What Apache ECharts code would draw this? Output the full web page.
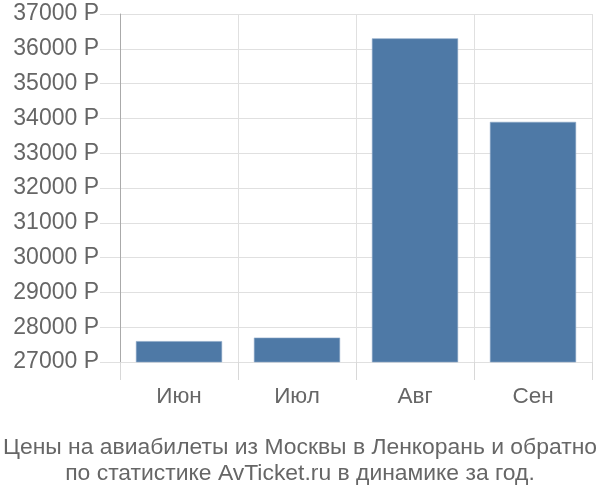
<!DOCTYPE html>
<html>
<head>
<meta charset="utf-8">
<script src="https://cdn.jsdelivr.net/npm/echarts@6/dist/echarts.min.js"></script>
<style>html,body{margin:0;padding:0;background:#fff}#c{width:600px;height:500px}</style>
</head>
<body>
<div id="c"></div>
<script>
const categories = ['Июн', 'Июл', 'Авг', 'Сен'];
const prices = [27600, 27700, 36300, 33900];
const yMin = 27000, yMax = 37000, yStep = 1000;
const titleText = 'Цены на авиабилеты из Москвы в Ленкорань и обратно\nпо статистике AvTicket.ru в динамике за год.';

const chart = echarts.init(document.getElementById('c'));
const font = '"Liberation Sans", Arial, sans-serif';
chart.setOption({
  animation: false,
  title: {
    text: titleText,
    left: 'center',
    top: 430,
    textStyle: { fontSize: 22.9, fontWeight: 'normal', color: '#666', lineHeight: 26, fontFamily: font }
  },
  grid: { left: 120, right: 8, top: 14, bottom: 138, containLabel: false },
  xAxis: {
    type: 'category',
    data: categories,
    axisLine: { show: false },
    axisTick: { show: true, length: 18, lineStyle: { color: '#d8d8d8' } },
    splitLine: { show: true, lineStyle: { color: '#e0e0e0' } },
    axisLabel: { margin: 23, fontSize: 22.5, color: '#666', fontFamily: font }
  },
  yAxis: {
    type: 'value',
    min: yMin, max: yMax, interval: yStep,
    axisLine: { show: true, lineStyle: { color: '#aaa' } },
    axisTick: { show: true, length: 20, lineStyle: { color: '#e0e0e0' } },
    splitLine: { show: true, lineStyle: { color: '#e0e0e0' } },
    axisLabel: { margin: 21, fontSize: 23, color: '#666', fontFamily: font, formatter: v => v + ' Р' }
  },
  series: [{
    type: 'bar',
    data: prices,
    barCategoryGap: '27%',
    itemStyle: { color: '#4e79a6', borderColor: '#8aa6c6', borderWidth: 0.6 }
  }]
});
</script>
</body>
</html>
